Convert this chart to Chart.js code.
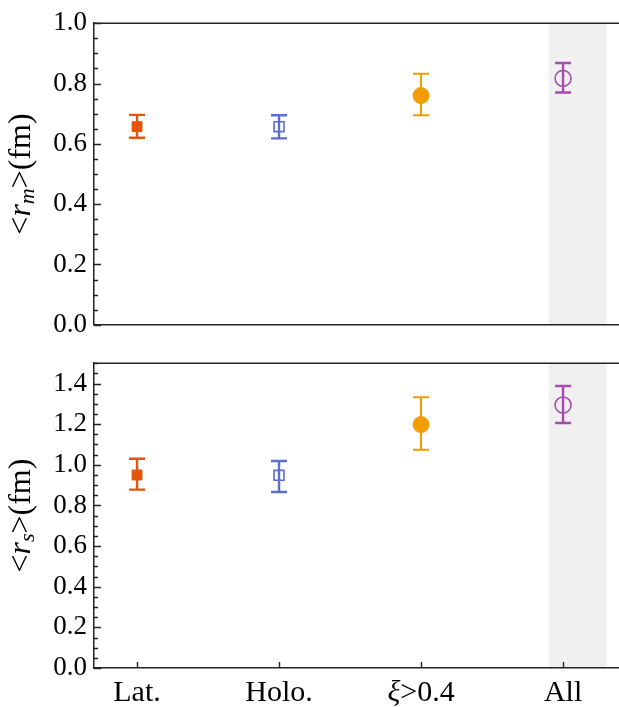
<!DOCTYPE html>
<html lang="en">
<head>
  <meta charset="UTF-8" />
  <title>Radii</title>
  <style>
    html, body {
      margin: 0;
      padding: 0;
      background: #fff;
      overflow: hidden;
    }
    .panel {
      position: absolute;
      left: 0;
    }
  </style>
  <script src="https://cdn.jsdelivr.net/npm/chart.js"></script>
</head>
<body>
  <div class="panel" style="top:0"><canvas id="rmChart" width="619" height="348"></canvas></div>
  <div class="panel" style="top:340px"><canvas id="rsChart" width="619" height="367"></canvas></div>

  <script>
    // data
    const categories = ["Lat.", "Holo.", "ξ>0.4", "All"];
    const rmValues = [0.657, 0.657, 0.760, 0.817];
    const rmErrPlus = [0.039, 0.038, 0.072, 0.051];
    const rmErrMinus = [0.037, 0.039, 0.065, 0.047];
    const rsValues = [0.950, 0.948, 1.198, 1.294];
    const rsErrPlus = [0.080, 0.071, 0.134, 0.094];
    const rsErrMinus = [0.072, 0.082, 0.124, 0.088];
    const rmTicks = [0.0, 0.2, 0.4, 0.6, 0.8, 1.0];
    const rsTicks = [0.0, 0.2, 0.4, 0.6, 0.8, 1.0, 1.2, 1.4];
    const shadeRange = [3.9, 4.31]; // grey band behind "All"

    const colors = ["#e6550d", "#5b6ec8", "#f39c00", "#a64bb0"];
    const markers = [
      { style: "rect", radius: 7, filled: true, bar: 2.4 },
      { style: "rect", radius: 7, filled: false, bar: 2.4 },
      { style: "circle", radius: 8, filled: true, bar: 2 },
      { style: "circle", radius: 8, filled: false, bar: 2.4 },
    ];
    const serif = '"Liberation Serif", "Times New Roman", serif';
    const axisColor = "#222";

    const framePlugin = {
      id: "frame",
      beforeDraw(chart, args, opts) {
        const { ctx, chartArea: a } = chart;
        const x = chart.scales.x;
        ctx.save();
        ctx.fillStyle = "#f0f0f0";
        const x0 = x.getPixelForValue(shadeRange[0]);
        const x1 = Math.min(x.getPixelForValue(shadeRange[1]), a.right);
        ctx.fillRect(x0, a.top, x1 - x0, a.bottom - a.top);
        ctx.restore();
      },
      beforeDatasetsDraw(chart, args, opts) {
        // error bars under the markers
        const { ctx } = chart;
        const x = chart.scales.x, y = chart.scales.y;
        ctx.save();
        opts.values.forEach((v, i) => {
          const px = x.getPixelForValue(i + 1);
          const top = y.getPixelForValue(v + opts.plus[i]);
          const bot = y.getPixelForValue(v - opts.minus[i]);
          ctx.strokeStyle = colors[i];
          ctx.lineWidth = markers[i].bar;
          ctx.beginPath();
          ctx.moveTo(px, top);
          ctx.lineTo(px, bot);
          ctx.moveTo(px - 8, top);
          ctx.lineTo(px + 8, top);
          ctx.moveTo(px - 8, bot);
          ctx.lineTo(px + 8, bot);
          ctx.stroke();
        });
        ctx.restore();
      },
      afterDraw(chart, args, opts) {
        const { ctx, chartArea: a } = chart;
        const x = chart.scales.x, y = chart.scales.y;
        ctx.save();
        ctx.strokeStyle = axisColor;
        // top spine
        ctx.lineWidth = 1.5;
        ctx.beginPath();
        ctx.moveTo(a.left, a.top);
        ctx.lineTo(a.right, a.top);
        ctx.stroke();
        // inward ticks on the y axis
        ctx.lineWidth = 1.4;
        ctx.beginPath();
        for (let k = 0; k * 0.05 <= y.max + 1e-9; k++) {
          const v = k * 0.05;
          const major = k % 4 === 0;
          const py = Math.round(y.getPixelForValue(v)) + 0.5;
          ctx.moveTo(a.left, py);
          ctx.lineTo(a.left + (major ? 7 : 4), py);
        }
        ctx.stroke();
        if (opts.xLabels) {
          ctx.beginPath();
          categories.forEach((c, i) => {
            const px = Math.round(x.getPixelForValue(i + 1)) + 0.5;
            ctx.moveTo(px, a.bottom);
            ctx.lineTo(px, a.bottom - 6);
          });
          ctx.stroke();
          ctx.fillStyle = "#000";
          ctx.textBaseline = "alphabetic";
          ctx.textAlign = "left";
          categories.forEach((c, i) => {
            const px = x.getPixelForValue(i + 1);
            let parts = [{ t: c, f: "30px " + serif }];
            if (c.startsWith("ξ")) {
              parts = [
                { t: "ξ", f: "italic 30px " + serif },
                { t: c.slice(1), f: "30px " + serif },
              ];
            }
            let w = 0;
            parts.forEach((p) => { ctx.font = p.f; p.w = ctx.measureText(p.t).width; w += p.w; });
            let cx = px - w / 2;
            parts.forEach((p) => { ctx.font = p.f; ctx.fillText(p.t, cx, a.bottom + 33); cx += p.w; });
          });
        }
        // y title  <r_sub>(fm)
        const parts = [
          { t: "<", f: "32px " + serif, dy: 0 },
          { t: "r", f: "italic 32px " + serif, dy: 0 },
          { t: opts.sub, f: "italic 22px " + serif, dy: 4 },
          { t: ">", f: "32px " + serif, dy: 0 },
          { t: "(fm)", f: "32px " + serif, dy: 0 },
        ];
        let total = 0;
        parts.forEach((p) => { ctx.font = p.f; p.w = ctx.measureText(p.t).width; total += p.w; });
        ctx.translate(30, (a.top + a.bottom) / 2);
        ctx.rotate(-Math.PI / 2);
        ctx.fillStyle = "#000";
        ctx.textBaseline = "alphabetic";
        ctx.textAlign = "left";
        let tx = -total / 2;
        parts.forEach((p) => { ctx.font = p.f; ctx.fillText(p.t, tx, p.dy); tx += p.w; });
        ctx.restore();
      },
    };

    function makePanel(id, values, plus, minus, ticks, yMax, sub, padding, xHeight, xLabels) {
      const datasets = values.map((v, i) => ({
        label: categories[i],
        data: [{ x: i + 1, y: v }],
        pointStyle: markers[i].style,
        pointRadius: markers[i].radius,
        backgroundColor: markers[i].filled ? colors[i] : "rgba(0,0,0,0)",
        borderColor: colors[i],
        borderWidth: markers[i].filled ? 1 : 1.6,
      }));

      return new Chart(document.getElementById(id), {
        type: "scatter",
        data: { datasets },
        options: {
          responsive: false,
          animation: false,
          layout: { padding, autoPadding: false },
          plugins: {
            legend: { display: false },
            tooltip: { enabled: false },
            frame: { values, plus, minus, sub, xLabels },
          },
          scales: {
            x: {
              type: "linear",
              min: 0.697,
              max: 4.394,
              grid: { display: false },
              border: { display: true, color: axisColor, width: 1.5 },
              ticks: { display: false },
              afterFit(scale) { scale.height = xHeight; },
            },
            y: {
              min: 0,
              max: yMax,
              grid: { display: false, drawTicks: false },
              border: { display: true, color: axisColor, width: 1.5 },
              afterBuildTicks(scale) { scale.ticks = ticks.map((t) => ({ value: t })); },
              afterFit(scale) { scale.width = 94; },
              ticks: {
                padding: 7,
                color: "#000",
                font: { family: serif, size: 27 },
                callback: (v) => Number(v).toFixed(1),
              },
            },
          },
        },
        plugins: [framePlugin],
      });
    }

    makePanel("rmChart", rmValues, rmErrPlus, rmErrMinus, rmTicks, 1.0, "m",
      { top: 18, right: 0, bottom: 15, left: 0 }, 0, false);
    makePanel("rsChart", rsValues, rsErrPlus, rsErrMinus, rsTicks, 1.5, "s",
      { top: 12, right: 0, bottom: 0, left: 0 }, 39, true);
  </script>
</body>
</html>
